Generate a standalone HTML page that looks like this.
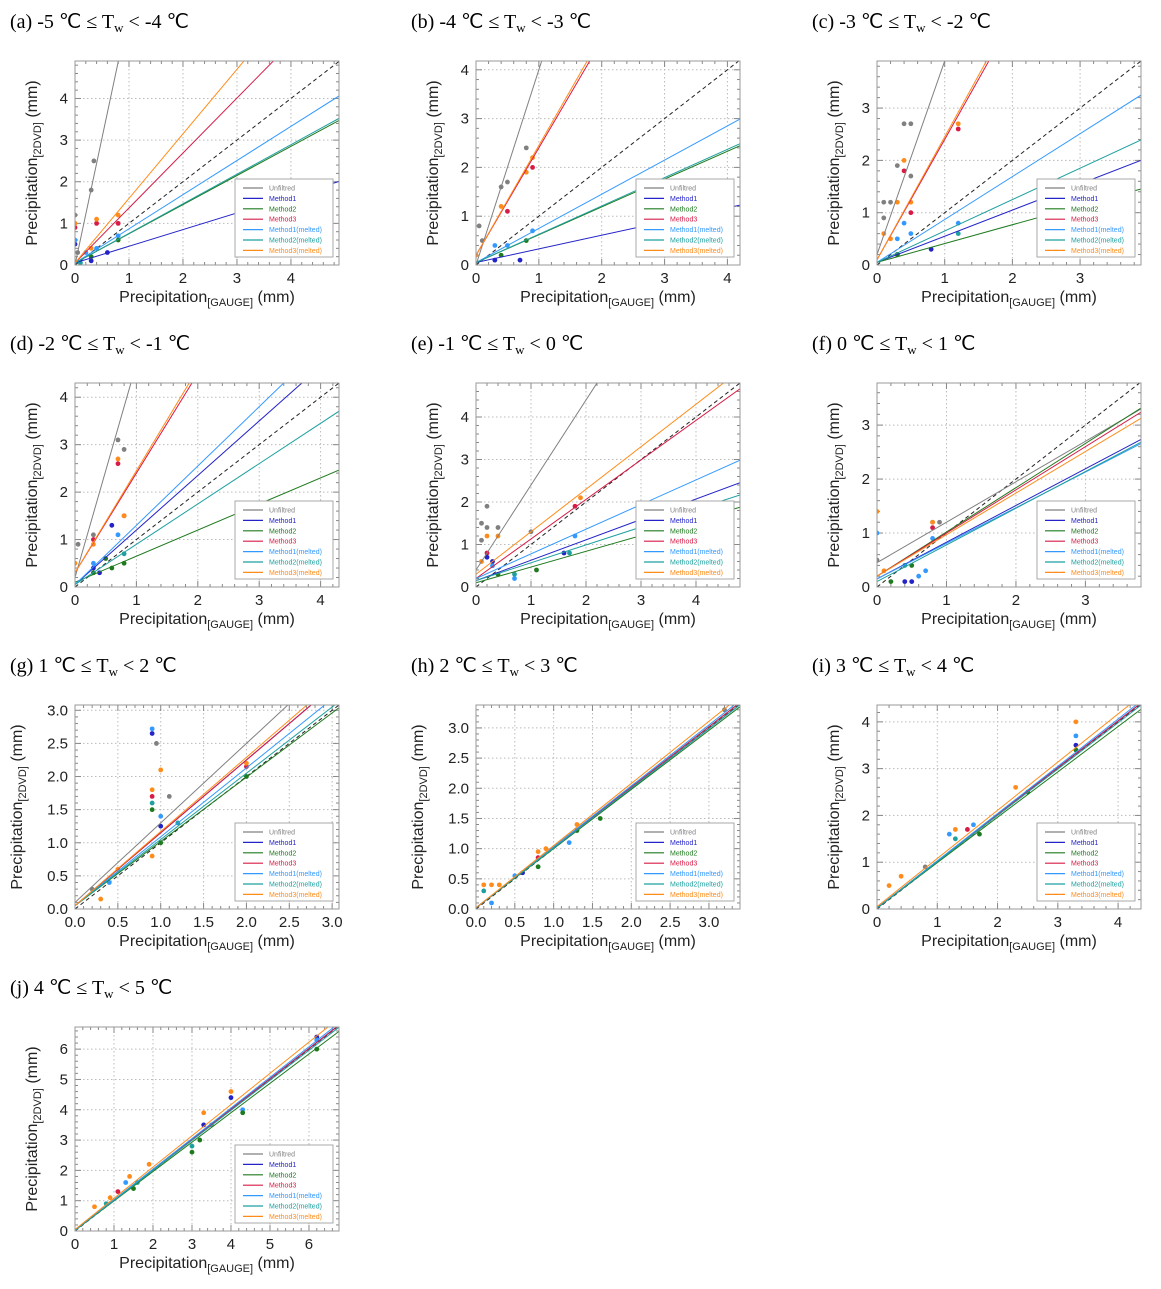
<!DOCTYPE html>
<html><head><meta charset="utf-8">
<style>
body{margin:0;background:#fff;}
svg text{font-family:"Liberation Sans","DejaVu Sans",sans-serif;}
.ttl{font-family:"Liberation Serif",serif;font-size:20px;fill:#000;}
</style></head>
<body>
<svg id="fig" width="1161" height="1284" viewBox="0 0 1161 1284" xmlns="http://www.w3.org/2000/svg"></svg>
<script>
const panelLabels = ["(a) -5 ℃ ≤ T","(b) -4 ℃ ≤ T","(c) -3 ℃ ≤ T","(d) -2 ℃ ≤ T","(e) -1 ℃ ≤ T","(f) 0 ℃ ≤ T","(g) 1 ℃ ≤ T","(h) 2 ℃ ≤ T","(i) 3 ℃ ≤ T","(j) 4 ℃ ≤ T"];
const panelTails = [" < -4 ℃"," < -3 ℃"," < -2 ℃"," < -1 ℃"," < 0 ℃"," < 1 ℃"," < 2 ℃"," < 3 ℃"," < 4 ℃"," < 5 ℃"];
const xMax = [4.89,4.2,3.9,4.3,4.8,3.8,3.08,3.4,4.38,6.77];
const yMax = [4.9,4.18,3.9,4.3,4.8,3.78,3.08,3.38,4.36,6.73];
const xTicks = [[0,1,2,3,4],[0,1,2,3,4],[0,1,2,3],[0,1,2,3,4],[0,1,2,3,4],[0,1,2,3],[0,0.5,1,1.5,2,2.5,3],[0,0.5,1,1.5,2,2.5,3],[0,1,2,3,4],[0,1,2,3,4,5,6]];
const yTicks = [[0,1,2,3,4],[0,1,2,3,4],[0,1,2,3],[0,1,2,3,4],[0,1,2,3,4],[0,1,2,3],[0,0.5,1,1.5,2,2.5,3],[0,0.5,1,1.5,2,2.5,3],[0,1,2,3,4],[0,1,2,3,4,5,6]];
const seriesNames = ["Unfiltred","Method1","Method2","Method3","Method1(melted)","Method2(melted)","Method3(melted)"];
const seriesColors = ["#808080","#2323c8","#1f7a1f","#d81b46","#3399ff","#1fa0a0","#ff8c1a"];
// slopes/intercepts per panel, series order as seriesNames
const slopes = [
 [6.1,0.4,0.7,1.32,0.82,0.71,1.55],
 [4.0,0.28,0.57,2.2,0.7,0.58,2.25],
 [3.7,0.5,0.36,2.3,0.82,0.6,2.35],
 [4.5,1.15,0.55,2.1,1.25,0.85,2.15],
 [2.0,0.48,0.37,0.93,0.58,0.42,1.0],
 [0.75,0.68,0.82,0.8,0.66,0.68,0.77],
 [1.2,1.1,0.97,1.1,1.04,1.0,1.12],
 [1.0,0.99,0.98,1.0,1.01,0.99,1.03],
 [1.0,1.0,0.97,1.0,1.01,0.99,1.03],
 [1.0,1.0,0.97,1.0,1.01,0.99,1.03]];
const intercepts = [
 [0,0.05,0.05,0.05,0.05,0.05,0.05],
 [0,0.05,0.05,0.2,0.05,0.05,0.2],
 [0.2,0.05,0.05,0.1,0.05,0.05,0.1],
 [0.2,0.05,0.1,0.3,0.05,0.05,0.3],
 [0.4,0.15,0.1,0.2,0.2,0.15,0.3],
 [0.45,0.15,0.2,0.2,0.15,0.1,0.2],
 [0.1,0.05,0.05,0.05,0.05,0.05,0.05],
 [0.02,0.02,0.02,0.02,0.02,0.02,0.02],
 [0.02,0.02,0.02,0.02,0.02,0.02,0.05],
 [0.02,0.02,0.02,0.02,0.02,0.02,0.05]];
// points: [series, x, y]
const points = [
 [[0,0.3,1.8],[0,0.35,2.5],[0,0,1.2],[0,0.05,0.3],[1,0.6,0.3],[1,0.3,0.1],[1,0,0.5],[3,0.4,1.0],[3,0.8,1.0],[3,0,0.9],[6,0.4,1.1],[6,0.8,1.2],[6,0,1.0],[6,0.3,0.4],[4,0.8,0.7],[4,0.4,0.4],[4,0.2,0.3],[2,0.8,0.6],[2,0.3,0.2],[5,0.1,0.05],[4,0,0.6]],
 [[0,0.4,1.6],[0,0.5,1.7],[0,0.8,2.4],[0,0.05,0.8],[0,0.1,0.5],[3,0.9,2.0],[3,0.5,1.1],[6,0.9,2.2],[6,0.4,1.2],[6,0.8,1.9],[6,0,0.2],[1,0.3,0.1],[1,0.7,0.1],[4,0.9,0.7],[4,0.5,0.4],[4,0.3,0.4],[2,0.8,0.5],[2,0.4,0.2]],
 [[0,0.1,1.2],[0,0.2,1.2],[0,0.3,1.9],[0,0.4,2.7],[0,0.5,2.7],[0,0.1,0.9],[0,0.5,1.7],[3,0.4,1.8],[3,0.5,1.0],[3,1.2,2.6],[6,0.4,2.0],[6,0.5,1.2],[6,1.2,2.7],[6,0.3,1.2],[6,0.1,0.6],[6,0.2,0.5],[1,0.8,0.3],[1,0.3,0.2],[4,0.4,0.8],[4,0.5,0.6],[4,1.2,0.8],[4,0.3,0.5],[2,0.3,0.2],[5,1.2,0.6]],
 [[0,0.7,3.1],[0,0.8,2.9],[0,0.3,1.1],[0,0.05,0.9],[3,0.7,2.6],[3,0.3,1.0],[3,0.8,1.5],[6,0.7,2.7],[6,0.3,0.9],[6,0.8,1.5],[6,0,0.5],[1,0.6,1.3],[1,0.3,0.4],[1,0.4,0.3],[4,0.7,1.1],[4,0.3,0.5],[2,0.5,0.6],[2,0.6,0.4],[2,0.8,0.5],[2,0.3,0.3],[5,0.8,0.7]],
 [[0,0.1,1.5],[0,0.2,1.9],[0,0.2,1.4],[0,0.4,1.4],[0,1.0,1.3],[0,0.1,1.1],[3,1.8,1.9],[3,0.2,0.8],[6,1.9,2.1],[6,0.2,1.2],[6,0.4,1.2],[6,0.1,0.6],[1,1.6,0.8],[1,0.3,0.6],[1,0.2,0.7],[4,1.8,1.2],[4,0.7,0.2],[4,0.3,0.5],[2,1.1,0.4],[2,0.4,0.3],[5,1.7,0.8],[5,0.7,0.3]],
 [[0,0.9,1.2],[0,0.8,1.2],[0,0,0.5],[6,0.8,1.2],[6,0,1.4],[6,0.1,0.3],[3,0.8,1.1],[1,0.4,0.1],[1,0.5,0.1],[4,0.6,0.2],[4,0.7,0.3],[4,0.8,0.9],[4,0,1.0],[2,0.5,0.4],[2,0.2,0.1],[5,0.4,0.4]],
 [[0,0.95,2.5],[0,1.1,1.7],[0,0.2,0.3],[1,0.9,2.65],[1,1.0,1.25],[4,0.9,2.72],[4,1.0,1.4],[3,0.9,1.7],[3,2.0,2.15],[6,0.9,1.8],[6,1.0,2.1],[6,2.0,2.2],[6,0.9,0.8],[6,0.3,0.15],[2,0.9,1.5],[2,2.0,2.0],[2,1.0,1.0],[5,0.9,1.6],[5,1.2,1.3],[6,0.5,0.6],[4,0.4,0.4]],
 [[6,0.1,0.4],[6,0.2,0.4],[6,0.3,0.4],[6,0.8,0.95],[6,0.9,1.0],[6,1.3,1.4],[4,0.2,0.1],[4,1.2,1.1],[4,0.5,0.55],[2,1.6,1.5],[2,0.8,0.7],[2,1.3,1.3],[0,3.2,3.3],[3,0.8,0.85],[1,0.6,0.6],[5,0.1,0.3]],
 [[6,3.3,4.0],[6,1.3,1.7],[6,0.2,0.5],[6,0.4,0.7],[6,2.3,2.6],[4,3.3,3.7],[4,1.2,1.6],[4,1.6,1.8],[1,3.3,3.5],[2,2.5,2.5],[2,1.7,1.6],[2,3.3,3.4],[5,1.3,1.5],[3,1.5,1.7],[0,0.8,0.9]],
 [[6,3.3,3.9],[6,4,4.6],[6,1.9,2.2],[6,0.5,0.8],[6,1.4,1.8],[1,4,4.4],[1,3.3,3.5],[1,6.2,6.4],[4,4.3,4.0],[4,6.2,6.3],[4,1.3,1.6],[2,3,2.6],[2,3.2,3.0],[2,4.3,3.9],[2,1.5,1.4],[2,6.2,6.0],[5,3,2.8],[5,1.6,1.6],[5,0.8,0.9],[0,3.5,3.5],[3,1.1,1.3],[6,0.9,1.1]]];

const NS="http://www.w3.org/2000/svg";
const fig=document.getElementById('fig');
function mk(tag,attrs,parent){const e=document.createElementNS(NS,tag);for(const k in attrs)e.setAttribute(k,attrs[k]);(parent||fig).appendChild(e);return e;}
function fmt(v,dec){return dec?v.toFixed(1):String(v);}

for(let p=0;p<10;p++){
  const col=p%3,row=Math.floor(p/3);
  const L=75+col*401,T=61+row*322,R=339+col*401,B=265+row*322;
  const W=R-L,H=B-T;
  const sx=v=>L+v/xMax[p]*W, sy=v=>B-v/yMax[p]*H;
  const dec=(p===6||p===7);
  const g=mk('g',{});
  
  
  // title
  const t=mk('text',{x:10+col*401,y:28+row*322,class:'ttl'},g);
  
  
  t.appendChild(document.createTextNode(panelLabels[p]));
  const ts=mk('tspan',{'font-size':'13','dy':'4'},t);ts.textContent='w';
  const tt=mk('tspan',{'dy':'-4'},t);tt.textContent=panelTails[p];
  // clip
  const cp=mk('clipPath',{id:'cp'+p},g);mk('rect',{x:L,y:T,width:W,height:H},cp);
  // grid
  xTicks[p].forEach(v=>{const x=sx(v);const gl=mk('line',{x1:x,x2:x,y1:T,y2:B,stroke:'#bbb','stroke-dasharray':'1.5,2.5'},g);});
  yTicks[p].forEach(v=>{const y=sy(v);const gl=mk('line',{x1:L,x2:R,y1:y,y2:y,stroke:'#bbb','stroke-dasharray':'1.5,2.5'},g);});
  // minor ticks
  const stepX=xTicks[p][1]-xTicks[p][0], stepY=yTicks[p][1]-yTicks[p][0];
  for(let v=0;v<=xMax[p]+1e-9;v+=stepX/5){const x=sx(v);const big=Math.abs(v/stepX-Math.round(v/stepX))<1e-6;const l=big?6:3;
    mk('line',{x1:x,x2:x,y1:B,y2:B-l,stroke:'#888'},g);mk('line',{x1:x,x2:x,y1:T,y2:T+l,stroke:'#888'},g);}
  for(let v=0;v<=yMax[p]+1e-9;v+=stepY/5){const y=sy(v);const big=Math.abs(v/stepY-Math.round(v/stepY))<1e-6;const l=big?6:3;
    mk('line',{x1:L,x2:L+l,y1:y,y2:y,stroke:'#888'},g);mk('line',{x1:R,x2:R-l,y1:y,y2:y,stroke:'#888'},g);}
  // tick labels
  xTicks[p].forEach(v=>{const e=mk('text',{x:sx(v),y:B+18,'font-size':'15','text-anchor':'middle',fill:'#222'},g);e.textContent=fmt(v,dec);});
  yTicks[p].forEach(v=>{const e=mk('text',{x:L-7,y:sy(v)+5,'font-size':'15','text-anchor':'end',fill:'#222'},g);e.textContent=fmt(v,dec);});
  // axis titles
  const xt=mk('text',{x:(L+R)/2,y:B+37,'font-size':'16','text-anchor':'middle',fill:'#222'},g);
  
  
  xt.appendChild(document.createTextNode('Precipitation'));
  const xs=mk('tspan',{'font-size':'11','dy':'4'},xt);xs.textContent='[GAUGE]';
  const xs2=mk('tspan',{'dy':'-4'},xt);xs2.textContent=' (mm)';
  const yx=L-(dec?53:38), yc=(T+B)/2;
  const yt=mk('text',{x:yx,y:yc,'font-size':'16','text-anchor':'middle',fill:'#222',transform:`rotate(-90 ${yx} ${yc})`},g);
  
  
  yt.appendChild(document.createTextNode('Precipitation'));
  const ys=mk('tspan',{'font-size':'11','dy':'4'},yt);ys.textContent='[2DVD]';
  const ys2=mk('tspan',{'dy':'-4'},yt);ys2.textContent=' (mm)';
  // plot content
  const pc=mk('g',{'clip-path':`url(#cp${p})`},g);
  const d=mk('line',{x1:sx(0),y1:sy(0),x2:sx(xMax[p]),y2:sy(xMax[p]),stroke:'#222','stroke-dasharray':'4,3'},pc);
  
  
  points[p].forEach(pt=>{const c=mk('circle',{cx:sx(pt[1]),cy:sy(pt[2]),r:2.4,fill:seriesColors[pt[0]]},pc);
    
    });
  for(let s=0;s<7;s++){
    const x2=xMax[p];
    const ln=mk('line',{x1:sx(0),y1:sy(intercepts[p][s]),x2:sx(x2),y2:sy(intercepts[p][s]+slopes[p][s]*x2),stroke:seriesColors[s],'stroke-width':1},pc);
    
    
  }
  // frame
  mk('rect',{x:L,y:T,width:W,height:H,fill:'none',stroke:'#999'},g);
  // legend
  const lg=mk('g',{},g);
  
  
  const lx=R-104,ly=B-86;
  mk('rect',{x:lx,y:ly,width:98,height:78,fill:'#fff',stroke:'#aaa'},lg);
  for(let s=0;s<7;s++){
    const yy=ly+9+s*10.4;
    mk('line',{x1:lx+8,x2:lx+28,y1:yy,y2:yy,stroke:seriesColors[s],'stroke-width':1.2},lg);
    const e=mk('text',{x:lx+34,y:yy+2.5,'font-size':'7',fill:seriesColors[s]},lg);
    e.textContent=seriesNames[s];
    
    
  }
}
</script>
</body></html>
